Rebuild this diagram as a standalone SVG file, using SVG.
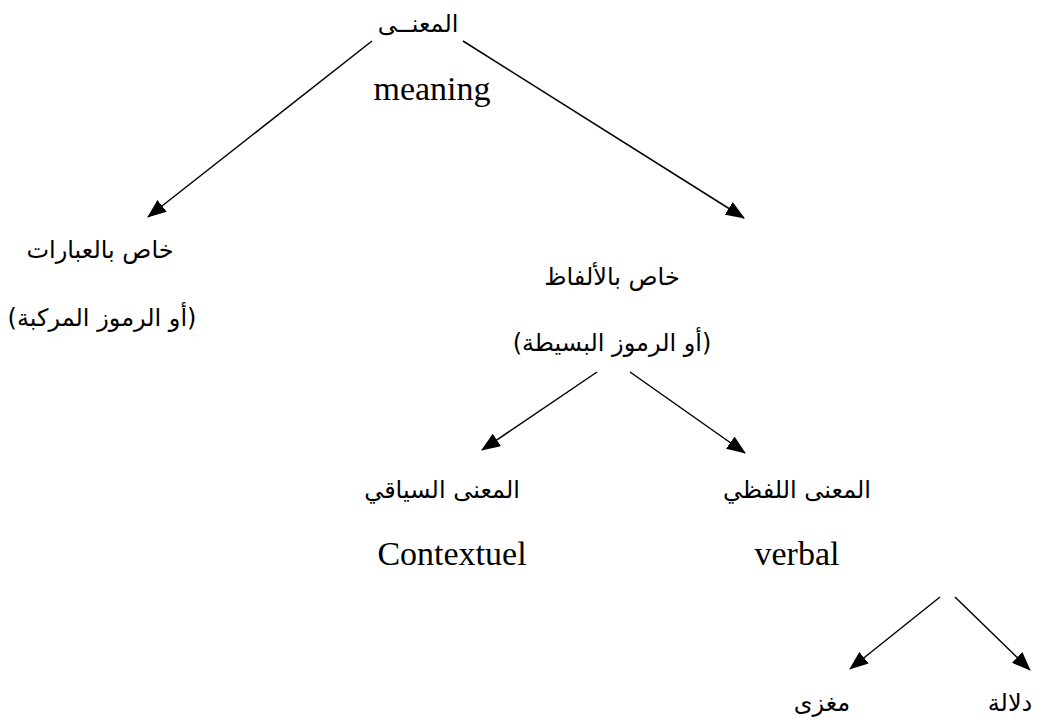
<svg xmlns="http://www.w3.org/2000/svg" width="1056" height="724" viewBox="0 0 1056 724">
<style>
.ar{font-family:"DejaVu Sans",sans-serif;font-size:24px;fill:#000;text-anchor:middle;direction:rtl}
.en{font-family:"Liberation Serif",serif;font-size:34px;fill:#000;text-anchor:middle}
.ln{stroke:#000;stroke-width:1.5;fill:none;marker-end:url(#ah)}
</style>
<defs>
<marker id="ah" markerWidth="19" markerHeight="15" refX="18" refY="7.5" orient="auto" markerUnits="userSpaceOnUse" viewBox="0 0 19 15">
<path d="M0,0 L19,7.5 L0,15 Z" fill="#000"/>
</marker>
</defs>
<rect width="1056" height="724" fill="#fff"/>
<g id="connectors">
<line class="ln" x1="372" y1="41" x2="148" y2="217"/>
<line class="ln" x1="463" y1="41" x2="744" y2="218"/>
<line class="ln" x1="597" y1="372" x2="482" y2="450"/>
<line class="ln" x1="630" y1="372" x2="745" y2="453"/>
<line class="ln" x1="940" y1="597" x2="850" y2="669"/>
<line class="ln" x1="955" y1="597" x2="1030" y2="670"/>
</g>
<g id="root">
<text class="ar" x="418" y="32">المعنــى</text>
<text class="en" x="432" y="100">meaning</text>
</g>
<g id="phrases">
<text class="ar" x="100" y="258">خاص بالعبارات</text>
<text class="ar" x="102" y="326">(أو الرموز المركبة)</text>
</g>
<g id="words">
<text class="ar" x="612" y="285">خاص بالألفاظ</text>
<text class="ar" x="612" y="351">(أو الرموز البسيطة)</text>
</g>
<g id="contextual">
<text class="ar" x="442" y="498">المعنى السياقي</text>
<text class="en" x="452" y="565">Contextuel</text>
</g>
<g id="verbal">
<text class="ar" x="797" y="498">المعنى اللفظي</text>
<text class="en" x="797" y="565">verbal</text>
</g>
<g id="maghza">
<text class="ar" x="822" y="711">مغزى</text>
</g>
<g id="dalala">
<text class="ar" x="1010" y="711">دلالة</text>
</g>
</svg>
